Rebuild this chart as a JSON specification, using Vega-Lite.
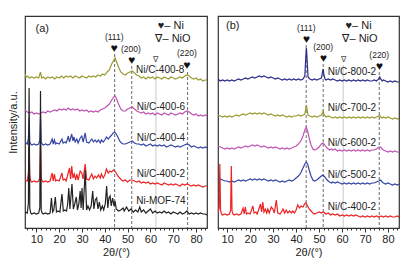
{
"$schema":"https://vega.github.io/schema/vega-lite/v6.json",
"padding":{"left":6,"top":15,"right":4,"bottom":0},
"spacing":8,
"config":{"font":"Liberation Sans","view":{"stroke":"#333","strokeWidth":1.2},
"axis":{"domain":false,"grid":false,"labelFont":"Liberation Sans","titleFont":"Liberation Sans","labelFontSize":11,"titleFontSize":11,"titleFontWeight":"normal","labelColor":"#222","titleColor":"#222","tickColor":"#333"},
"text":{"font":"Liberation Sans","color":"#222","baseline":"middle"}},
"datasets":{
"a":[
{"s":"a8","x":5,"y":154},{"s":"a8","x":5.5,"y":151},{"s":"a8","x":6,"y":152},{"s":"a8","x":7,"y":150},{"s":"a8","x":8,"y":151},{"s":"a8","x":9,"y":150},{"s":"a8","x":10,"y":151},{"s":"a8","x":11,"y":150},{"s":"a8","x":11.8,"y":156},{"s":"a8","x":12.3,"y":150},{"s":"a8","x":13,"y":151},{"s":"a8","x":14,"y":149},{"s":"a8","x":15,"y":151},{"s":"a8","x":16,"y":150},{"s":"a8","x":17,"y":151},{"s":"a8","x":18,"y":149},{"s":"a8","x":19,"y":151},{"s":"a8","x":20,"y":150},{"s":"a8","x":21,"y":152},{"s":"a8","x":22,"y":150},{"s":"a8","x":23,"y":152},{"s":"a8","x":24,"y":151},{"s":"a8","x":25,"y":152},{"s":"a8","x":26,"y":150},{"s":"a8","x":27,"y":152},{"s":"a8","x":28,"y":151},{"s":"a8","x":29,"y":150},{"s":"a8","x":30,"y":152},{"s":"a8","x":31,"y":151},{"s":"a8","x":32,"y":150},{"s":"a8","x":33,"y":152},{"s":"a8","x":34,"y":151},{"s":"a8","x":35,"y":152},{"s":"a8","x":36,"y":151},{"s":"a8","x":37,"y":153},{"s":"a8","x":38,"y":152},{"s":"a8","x":39,"y":154},{"s":"a8","x":40,"y":153},{"s":"a8","x":41,"y":156},{"s":"a8","x":42,"y":158},{"s":"a8","x":43,"y":164},{"s":"a8","x":44,"y":168},{"s":"a8","x":44.5,"y":170},{"s":"a8","x":45,"y":167},{"s":"a8","x":46,"y":161},{"s":"a8","x":47,"y":156},{"s":"a8","x":48,"y":154},{"s":"a8","x":49,"y":153},{"s":"a8","x":50,"y":155},{"s":"a8","x":51,"y":156},{"s":"a8","x":52,"y":157},{"s":"a8","x":53,"y":155},{"s":"a8","x":54,"y":153},{"s":"a8","x":55,"y":152},{"s":"a8","x":56,"y":150},{"s":"a8","x":57,"y":151},{"s":"a8","x":58,"y":149},{"s":"a8","x":59,"y":151},{"s":"a8","x":60,"y":150},{"s":"a8","x":61,"y":151},{"s":"a8","x":62,"y":149},{"s":"a8","x":63,"y":151},{"s":"a8","x":64,"y":150},{"s":"a8","x":65,"y":149},{"s":"a8","x":66,"y":151},{"s":"a8","x":67,"y":150},{"s":"a8","x":68,"y":149},{"s":"a8","x":69,"y":151},{"s":"a8","x":70,"y":150},{"s":"a8","x":71,"y":149},{"s":"a8","x":72,"y":150},{"s":"a8","x":73,"y":151},{"s":"a8","x":74,"y":150},{"s":"a8","x":75,"y":152},{"s":"a8","x":76,"y":153},{"s":"a8","x":77,"y":152},{"s":"a8","x":78,"y":150},{"s":"a8","x":79,"y":149},{"s":"a8","x":80,"y":150},{"s":"a8","x":81,"y":148},{"s":"a8","x":82,"y":149},{"s":"a8","x":83,"y":147},{"s":"a8","x":84,"y":148},{"s":"a8","x":84.8,"y":148},
{"s":"a6","x":5,"y":118},{"s":"a6","x":6,"y":116},{"s":"a6","x":7,"y":115},{"s":"a6","x":8,"y":116},{"s":"a6","x":9,"y":114},{"s":"a6","x":10,"y":115},{"s":"a6","x":11,"y":114},{"s":"a6","x":12,"y":115},{"s":"a6","x":13,"y":116},{"s":"a6","x":14,"y":115},{"s":"a6","x":15,"y":117},{"s":"a6","x":16,"y":116},{"s":"a6","x":17,"y":117},{"s":"a6","x":18,"y":118},{"s":"a6","x":19,"y":117},{"s":"a6","x":20,"y":119},{"s":"a6","x":21,"y":118},{"s":"a6","x":22,"y":119},{"s":"a6","x":23,"y":118},{"s":"a6","x":24,"y":120},{"s":"a6","x":25,"y":118},{"s":"a6","x":26,"y":119},{"s":"a6","x":27,"y":118},{"s":"a6","x":28,"y":119},{"s":"a6","x":29,"y":117},{"s":"a6","x":30,"y":118},{"s":"a6","x":31,"y":117},{"s":"a6","x":32,"y":118},{"s":"a6","x":33,"y":116},{"s":"a6","x":34,"y":117},{"s":"a6","x":35,"y":116},{"s":"a6","x":36,"y":117},{"s":"a6","x":37,"y":116},{"s":"a6","x":38,"y":118},{"s":"a6","x":39,"y":119},{"s":"a6","x":40,"y":120},{"s":"a6","x":41,"y":122},{"s":"a6","x":42,"y":124},{"s":"a6","x":43,"y":128},{"s":"a6","x":44,"y":131},{"s":"a6","x":44.5,"y":132},{"s":"a6","x":45,"y":130},{"s":"a6","x":46,"y":124},{"s":"a6","x":47,"y":119},{"s":"a6","x":48,"y":117},{"s":"a6","x":49,"y":117},{"s":"a6","x":50,"y":119},{"s":"a6","x":51,"y":120},{"s":"a6","x":52,"y":121},{"s":"a6","x":53,"y":119},{"s":"a6","x":54,"y":117},{"s":"a6","x":55,"y":116},{"s":"a6","x":56,"y":115},{"s":"a6","x":57,"y":116},{"s":"a6","x":58,"y":114},{"s":"a6","x":59,"y":115},{"s":"a6","x":60,"y":114},{"s":"a6","x":61,"y":115},{"s":"a6","x":62,"y":113},{"s":"a6","x":63,"y":115},{"s":"a6","x":64,"y":114},{"s":"a6","x":65,"y":113},{"s":"a6","x":66,"y":115},{"s":"a6","x":67,"y":114},{"s":"a6","x":68,"y":113},{"s":"a6","x":69,"y":115},{"s":"a6","x":70,"y":114},{"s":"a6","x":71,"y":113},{"s":"a6","x":72,"y":114},{"s":"a6","x":73,"y":115},{"s":"a6","x":74,"y":114},{"s":"a6","x":75,"y":116},{"s":"a6","x":76,"y":117},{"s":"a6","x":77,"y":116},{"s":"a6","x":78,"y":114},{"s":"a6","x":79,"y":113},{"s":"a6","x":80,"y":114},{"s":"a6","x":81,"y":112},{"s":"a6","x":82,"y":113},{"s":"a6","x":83,"y":112},{"s":"a6","x":84,"y":113},{"s":"a6","x":84.8,"y":112},
{"s":"a4","x":5,"y":86},{"s":"a4","x":6,"y":84},{"s":"a4","x":6.5,"y":90},{"s":"a4","x":6.8,"y":110},{"s":"a4","x":7.1,"y":86},{"s":"a4","x":7.5,"y":84},{"s":"a4","x":8,"y":83},{"s":"a4","x":9,"y":84},{"s":"a4","x":10,"y":83},{"s":"a4","x":11,"y":84},{"s":"a4","x":11.5,"y":88},{"s":"a4","x":11.8,"y":112},{"s":"a4","x":12.1,"y":86},{"s":"a4","x":12.5,"y":84},{"s":"a4","x":13,"y":83},{"s":"a4","x":14,"y":84},{"s":"a4","x":15,"y":83},{"s":"a4","x":16,"y":84},{"s":"a4","x":16.9,"y":89},{"s":"a4","x":17.4,"y":84},{"s":"a4","x":17.9,"y":88},{"s":"a4","x":18.4,"y":84},{"s":"a4","x":19,"y":85},{"s":"a4","x":20,"y":84},{"s":"a4","x":21.2,"y":89},{"s":"a4","x":21.7,"y":85},{"s":"a4","x":22.5,"y":86},{"s":"a4","x":23,"y":85},{"s":"a4","x":23.5,"y":88},{"s":"a4","x":24,"y":92},{"s":"a4","x":24.5,"y":86},{"s":"a4","x":25.5,"y":94},{"s":"a4","x":26,"y":87},{"s":"a4","x":26.4,"y":91},{"s":"a4","x":27,"y":86},{"s":"a4","x":27.7,"y":89},{"s":"a4","x":28.3,"y":85},{"s":"a4","x":29.2,"y":90},{"s":"a4","x":29.9,"y":92},{"s":"a4","x":30.5,"y":86},{"s":"a4","x":31.4,"y":95},{"s":"a4","x":32,"y":86},{"s":"a4","x":33,"y":85},{"s":"a4","x":33.6,"y":87},{"s":"a4","x":34.3,"y":89},{"s":"a4","x":35,"y":86},{"s":"a4","x":35.7,"y":88},{"s":"a4","x":36.4,"y":86},{"s":"a4","x":37.2,"y":88},{"s":"a4","x":38,"y":85},{"s":"a4","x":38.5,"y":88},{"s":"a4","x":39.3,"y":86},{"s":"a4","x":40,"y":88},{"s":"a4","x":40.7,"y":91},{"s":"a4","x":41.5,"y":89},{"s":"a4","x":42.2,"y":91},{"s":"a4","x":43,"y":93},{"s":"a4","x":43.7,"y":95},{"s":"a4","x":44.3,"y":96},{"s":"a4","x":45,"y":94},{"s":"a4","x":45.7,"y":91},{"s":"a4","x":46.5,"y":87},{"s":"a4","x":47.3,"y":85},{"s":"a4","x":48,"y":84},{"s":"a4","x":49,"y":84},{"s":"a4","x":50,"y":85},{"s":"a4","x":51,"y":86},{"s":"a4","x":52,"y":87},{"s":"a4","x":53,"y":85},{"s":"a4","x":54,"y":84},{"s":"a4","x":55,"y":84},{"s":"a4","x":56,"y":83},{"s":"a4","x":57,"y":84},{"s":"a4","x":58,"y":82},{"s":"a4","x":59,"y":83},{"s":"a4","x":60,"y":84},{"s":"a4","x":61,"y":82},{"s":"a4","x":62,"y":83},{"s":"a4","x":63,"y":82},{"s":"a4","x":64,"y":83},{"s":"a4","x":65,"y":82},{"s":"a4","x":66,"y":83},{"s":"a4","x":67,"y":81},{"s":"a4","x":68,"y":82},{"s":"a4","x":69,"y":83},{"s":"a4","x":70,"y":82},{"s":"a4","x":71,"y":81},{"s":"a4","x":72,"y":82},{"s":"a4","x":73,"y":81},{"s":"a4","x":74,"y":82},{"s":"a4","x":75,"y":83},{"s":"a4","x":76,"y":84},{"s":"a4","x":77,"y":83},{"s":"a4","x":78,"y":81},{"s":"a4","x":79,"y":82},{"s":"a4","x":80,"y":81},{"s":"a4","x":81,"y":80},{"s":"a4","x":82,"y":81},{"s":"a4","x":83,"y":80},{"s":"a4","x":84,"y":81},{"s":"a4","x":84.8,"y":80},
{"s":"a2","x":5,"y":48},{"s":"a2","x":6,"y":47},{"s":"a2","x":6.5,"y":55},{"s":"a2","x":6.8,"y":80},{"s":"a2","x":7.1,"y":52},{"s":"a2","x":7.5,"y":47},{"s":"a2","x":8,"y":46},{"s":"a2","x":9,"y":47},{"s":"a2","x":10,"y":46},{"s":"a2","x":11,"y":47},{"s":"a2","x":11.5,"y":50},{"s":"a2","x":11.8,"y":82},{"s":"a2","x":12.1,"y":50},{"s":"a2","x":12.5,"y":47},{"s":"a2","x":13,"y":46},{"s":"a2","x":14,"y":47},{"s":"a2","x":15,"y":46},{"s":"a2","x":16,"y":47},{"s":"a2","x":16.9,"y":55},{"s":"a2","x":17.4,"y":47},{"s":"a2","x":17.9,"y":54},{"s":"a2","x":18.4,"y":47},{"s":"a2","x":19,"y":48},{"s":"a2","x":20,"y":47},{"s":"a2","x":21.2,"y":55},{"s":"a2","x":21.7,"y":48},{"s":"a2","x":22.5,"y":49},{"s":"a2","x":23,"y":47},{"s":"a2","x":23.5,"y":51},{"s":"a2","x":24.5,"y":60},{"s":"a2","x":25,"y":49},{"s":"a2","x":25.5,"y":62},{"s":"a2","x":26,"y":50},{"s":"a2","x":26.6,"y":54},{"s":"a2","x":27.2,"y":48},{"s":"a2","x":27.7,"y":54},{"s":"a2","x":28.3,"y":48},{"s":"a2","x":29.2,"y":57},{"s":"a2","x":29.9,"y":55},{"s":"a2","x":30.5,"y":49},{"s":"a2","x":31.4,"y":64},{"s":"a2","x":32,"y":49},{"s":"a2","x":33,"y":48},{"s":"a2","x":33.6,"y":51},{"s":"a2","x":34.3,"y":54},{"s":"a2","x":35,"y":49},{"s":"a2","x":35.7,"y":52},{"s":"a2","x":36.4,"y":50},{"s":"a2","x":37.2,"y":53},{"s":"a2","x":38,"y":50},{"s":"a2","x":38.5,"y":54},{"s":"a2","x":39.3,"y":50},{"s":"a2","x":40,"y":53},{"s":"a2","x":40.7,"y":59},{"s":"a2","x":41.5,"y":55},{"s":"a2","x":42.2,"y":57},{"s":"a2","x":43,"y":56},{"s":"a2","x":43.7,"y":58},{"s":"a2","x":44.3,"y":57},{"s":"a2","x":45,"y":55},{"s":"a2","x":45.7,"y":52},{"s":"a2","x":46.5,"y":50},{"s":"a2","x":47.3,"y":48},{"s":"a2","x":48,"y":47},{"s":"a2","x":49,"y":48},{"s":"a2","x":50,"y":46},{"s":"a2","x":51,"y":48},{"s":"a2","x":52,"y":48},{"s":"a2","x":53,"y":47},{"s":"a2","x":54,"y":46},{"s":"a2","x":55,"y":47},{"s":"a2","x":56,"y":45},{"s":"a2","x":57,"y":46},{"s":"a2","x":58,"y":45},{"s":"a2","x":59,"y":46},{"s":"a2","x":60,"y":44},{"s":"a2","x":61,"y":45},{"s":"a2","x":62,"y":44},{"s":"a2","x":63,"y":45},{"s":"a2","x":64,"y":44},{"s":"a2","x":65,"y":43},{"s":"a2","x":66,"y":45},{"s":"a2","x":67,"y":44},{"s":"a2","x":68,"y":43},{"s":"a2","x":69,"y":44},{"s":"a2","x":70,"y":43},{"s":"a2","x":71,"y":44},{"s":"a2","x":72,"y":43},{"s":"a2","x":73,"y":42},{"s":"a2","x":74,"y":44},{"s":"a2","x":75,"y":43},{"s":"a2","x":76,"y":44},{"s":"a2","x":77,"y":43},{"s":"a2","x":78,"y":42},{"s":"a2","x":79,"y":43},{"s":"a2","x":80,"y":42},{"s":"a2","x":81,"y":43},{"s":"a2","x":82,"y":42},{"s":"a2","x":83,"y":41},{"s":"a2","x":84,"y":42},{"s":"a2","x":84.8,"y":42},
{"s":"a0","x":5,"y":16},{"s":"a0","x":6,"y":15},{"s":"a0","x":6.5,"y":25},{"s":"a0","x":6.8,"y":140},{"s":"a0","x":7.1,"y":20},{"s":"a0","x":7.5,"y":15},{"s":"a0","x":8,"y":14},{"s":"a0","x":9,"y":15},{"s":"a0","x":10,"y":14},{"s":"a0","x":11,"y":15},{"s":"a0","x":11.5,"y":20},{"s":"a0","x":11.8,"y":137},{"s":"a0","x":12.1,"y":18},{"s":"a0","x":12.5,"y":15},{"s":"a0","x":13,"y":14},{"s":"a0","x":14,"y":15},{"s":"a0","x":15,"y":14},{"s":"a0","x":16,"y":15},{"s":"a0","x":16.6,"y":30},{"s":"a0","x":17.1,"y":16},{"s":"a0","x":17.6,"y":18},{"s":"a0","x":18.3,"y":31},{"s":"a0","x":18.8,"y":16},{"s":"a0","x":19.5,"y":17},{"s":"a0","x":20.3,"y":16},{"s":"a0","x":21.2,"y":34},{"s":"a0","x":21.8,"y":17},{"s":"a0","x":22.5,"y":18},{"s":"a0","x":23.2,"y":17},{"s":"a0","x":23.7,"y":24},{"s":"a0","x":24.2,"y":40},{"s":"a0","x":24.7,"y":19},{"s":"a0","x":25.6,"y":44},{"s":"a0","x":26.2,"y":19},{"s":"a0","x":26.8,"y":24},{"s":"a0","x":27.5,"y":31},{"s":"a0","x":28,"y":18},{"s":"a0","x":28.6,"y":24},{"s":"a0","x":29.2,"y":37},{"s":"a0","x":29.6,"y":20},{"s":"a0","x":30,"y":40},{"s":"a0","x":30.5,"y":18},{"s":"a0","x":31.4,"y":58},{"s":"a0","x":32,"y":18},{"s":"a0","x":32.6,"y":22},{"s":"a0","x":33.3,"y":18},{"s":"a0","x":34,"y":22},{"s":"a0","x":34.7,"y":37},{"s":"a0","x":35.2,"y":19},{"s":"a0","x":35.8,"y":28},{"s":"a0","x":36.4,"y":30},{"s":"a0","x":37,"y":19},{"s":"a0","x":37.6,"y":26},{"s":"a0","x":38.2,"y":18},{"s":"a0","x":38.9,"y":22},{"s":"a0","x":39.5,"y":18},{"s":"a0","x":40.2,"y":24},{"s":"a0","x":40.8,"y":42},{"s":"a0","x":41.3,"y":20},{"s":"a0","x":41.8,"y":30},{"s":"a0","x":42.3,"y":32},{"s":"a0","x":42.8,"y":22},{"s":"a0","x":43.4,"y":30},{"s":"a0","x":44,"y":22},{"s":"a0","x":44.5,"y":27},{"s":"a0","x":45,"y":19},{"s":"a0","x":46,"y":17},{"s":"a0","x":47,"y":18},{"s":"a0","x":48,"y":20},{"s":"a0","x":48.5,"y":17},{"s":"a0","x":49.5,"y":21},{"s":"a0","x":50.5,"y":17},{"s":"a0","x":51.5,"y":19},{"s":"a0","x":52.5,"y":16},{"s":"a0","x":53.5,"y":18},{"s":"a0","x":54.5,"y":16},{"s":"a0","x":55.3,"y":21},{"s":"a0","x":56,"y":16},{"s":"a0","x":57,"y":18},{"s":"a0","x":58,"y":15},{"s":"a0","x":59,"y":17},{"s":"a0","x":60,"y":19},{"s":"a0","x":61,"y":15},{"s":"a0","x":62,"y":17},{"s":"a0","x":63,"y":15},{"s":"a0","x":64,"y":16},{"s":"a0","x":65,"y":15},{"s":"a0","x":66,"y":17},{"s":"a0","x":67,"y":15},{"s":"a0","x":68,"y":16},{"s":"a0","x":69,"y":14},{"s":"a0","x":70,"y":16},{"s":"a0","x":71,"y":15},{"s":"a0","x":72,"y":14},{"s":"a0","x":73,"y":16},{"s":"a0","x":74,"y":14},{"s":"a0","x":75,"y":15},{"s":"a0","x":76,"y":17},{"s":"a0","x":77,"y":14},{"s":"a0","x":78,"y":15},{"s":"a0","x":79,"y":14},{"s":"a0","x":80,"y":15},{"s":"a0","x":81,"y":14},{"s":"a0","x":82,"y":15},{"s":"a0","x":83,"y":14},{"s":"a0","x":84,"y":14},{"s":"a0","x":84.8,"y":13}
],
"b":[
{"s":"b8","x":6,"y":149},{"s":"b8","x":7,"y":147},{"s":"b8","x":8,"y":148},{"s":"b8","x":9,"y":147},{"s":"b8","x":10,"y":148},{"s":"b8","x":11,"y":147},{"s":"b8","x":12,"y":148},{"s":"b8","x":13,"y":147},{"s":"b8","x":14,"y":148},{"s":"b8","x":15,"y":149},{"s":"b8","x":16,"y":148},{"s":"b8","x":17,"y":149},{"s":"b8","x":18,"y":150},{"s":"b8","x":19,"y":149},{"s":"b8","x":20,"y":150},{"s":"b8","x":21,"y":151},{"s":"b8","x":22,"y":150},{"s":"b8","x":23,"y":151},{"s":"b8","x":24,"y":152},{"s":"b8","x":25,"y":151},{"s":"b8","x":26,"y":152},{"s":"b8","x":27,"y":151},{"s":"b8","x":28,"y":150},{"s":"b8","x":29,"y":151},{"s":"b8","x":30,"y":150},{"s":"b8","x":31,"y":149},{"s":"b8","x":32,"y":150},{"s":"b8","x":33,"y":149},{"s":"b8","x":34,"y":148},{"s":"b8","x":35,"y":149},{"s":"b8","x":36,"y":148},{"s":"b8","x":37,"y":149},{"s":"b8","x":38,"y":148},{"s":"b8","x":39,"y":149},{"s":"b8","x":40,"y":148},{"s":"b8","x":41,"y":149},{"s":"b8","x":42,"y":148},{"s":"b8","x":43,"y":149},{"s":"b8","x":43.8,"y":152},{"s":"b8","x":44.2,"y":170},{"s":"b8","x":44.5,"y":180},{"s":"b8","x":44.8,"y":168},{"s":"b8","x":45.2,"y":151},{"s":"b8","x":46,"y":149},{"s":"b8","x":47,"y":148},{"s":"b8","x":48,"y":149},{"s":"b8","x":49,"y":148},{"s":"b8","x":50,"y":149},{"s":"b8","x":51,"y":150},{"s":"b8","x":51.5,"y":156},{"s":"b8","x":51.8,"y":159},{"s":"b8","x":52.1,"y":153},{"s":"b8","x":52.6,"y":149},{"s":"b8","x":53,"y":148},{"s":"b8","x":54,"y":149},{"s":"b8","x":55,"y":148},{"s":"b8","x":56,"y":149},{"s":"b8","x":57,"y":148},{"s":"b8","x":58,"y":147},{"s":"b8","x":59,"y":148},{"s":"b8","x":60,"y":147},{"s":"b8","x":61,"y":148},{"s":"b8","x":62,"y":147},{"s":"b8","x":63,"y":148},{"s":"b8","x":64,"y":147},{"s":"b8","x":65,"y":148},{"s":"b8","x":66,"y":147},{"s":"b8","x":67,"y":148},{"s":"b8","x":68,"y":147},{"s":"b8","x":69,"y":148},{"s":"b8","x":70,"y":147},{"s":"b8","x":71,"y":148},{"s":"b8","x":72,"y":147},{"s":"b8","x":73,"y":147},{"s":"b8","x":74,"y":148},{"s":"b8","x":75,"y":147},{"s":"b8","x":76,"y":149},{"s":"b8","x":76.4,"y":151},{"s":"b8","x":76.8,"y":149},{"s":"b8","x":77.5,"y":147},{"s":"b8","x":78,"y":148},{"s":"b8","x":79,"y":147},{"s":"b8","x":80,"y":146},{"s":"b8","x":81,"y":147},{"s":"b8","x":82,"y":146},{"s":"b8","x":83,"y":147},{"s":"b8","x":84,"y":146},{"s":"b8","x":84.8,"y":146},
{"s":"b7","x":6,"y":113},{"s":"b7","x":7,"y":112},{"s":"b7","x":8,"y":111},{"s":"b7","x":9,"y":112},{"s":"b7","x":10,"y":111},{"s":"b7","x":11,"y":112},{"s":"b7","x":12,"y":111},{"s":"b7","x":13,"y":112},{"s":"b7","x":14,"y":113},{"s":"b7","x":15,"y":112},{"s":"b7","x":16,"y":113},{"s":"b7","x":17,"y":114},{"s":"b7","x":18,"y":113},{"s":"b7","x":19,"y":114},{"s":"b7","x":20,"y":115},{"s":"b7","x":21,"y":114},{"s":"b7","x":22,"y":115},{"s":"b7","x":23,"y":114},{"s":"b7","x":24,"y":115},{"s":"b7","x":25,"y":114},{"s":"b7","x":26,"y":115},{"s":"b7","x":27,"y":114},{"s":"b7","x":28,"y":113},{"s":"b7","x":29,"y":114},{"s":"b7","x":30,"y":113},{"s":"b7","x":31,"y":112},{"s":"b7","x":32,"y":113},{"s":"b7","x":33,"y":112},{"s":"b7","x":34,"y":113},{"s":"b7","x":35,"y":112},{"s":"b7","x":36,"y":111},{"s":"b7","x":37,"y":112},{"s":"b7","x":38,"y":111},{"s":"b7","x":39,"y":112},{"s":"b7","x":40,"y":112},{"s":"b7","x":41,"y":113},{"s":"b7","x":42,"y":112},{"s":"b7","x":43,"y":113},{"s":"b7","x":43.8,"y":114},{"s":"b7","x":44.2,"y":119},{"s":"b7","x":44.5,"y":123},{"s":"b7","x":44.8,"y":118},{"s":"b7","x":45.2,"y":113},{"s":"b7","x":46,"y":112},{"s":"b7","x":47,"y":111},{"s":"b7","x":48,"y":112},{"s":"b7","x":49,"y":111},{"s":"b7","x":50,"y":112},{"s":"b7","x":51,"y":113},{"s":"b7","x":51.5,"y":115},{"s":"b7","x":51.8,"y":117},{"s":"b7","x":52.1,"y":114},{"s":"b7","x":52.6,"y":112},{"s":"b7","x":53,"y":111},{"s":"b7","x":54,"y":112},{"s":"b7","x":55,"y":111},{"s":"b7","x":56,"y":110},{"s":"b7","x":57,"y":111},{"s":"b7","x":58,"y":110},{"s":"b7","x":59,"y":111},{"s":"b7","x":60,"y":110},{"s":"b7","x":61,"y":111},{"s":"b7","x":62,"y":110},{"s":"b7","x":63,"y":111},{"s":"b7","x":64,"y":110},{"s":"b7","x":65,"y":111},{"s":"b7","x":66,"y":110},{"s":"b7","x":67,"y":111},{"s":"b7","x":68,"y":110},{"s":"b7","x":69,"y":111},{"s":"b7","x":70,"y":110},{"s":"b7","x":71,"y":111},{"s":"b7","x":72,"y":110},{"s":"b7","x":73,"y":111},{"s":"b7","x":74,"y":110},{"s":"b7","x":75,"y":111},{"s":"b7","x":76,"y":112},{"s":"b7","x":76.4,"y":113},{"s":"b7","x":76.8,"y":111},{"s":"b7","x":77.5,"y":110},{"s":"b7","x":78,"y":111},{"s":"b7","x":79,"y":110},{"s":"b7","x":80,"y":111},{"s":"b7","x":81,"y":110},{"s":"b7","x":82,"y":109},{"s":"b7","x":83,"y":110},{"s":"b7","x":84,"y":109},{"s":"b7","x":84.8,"y":110},
{"s":"b6","x":6,"y":82},{"s":"b6","x":7,"y":81},{"s":"b6","x":8,"y":80},{"s":"b6","x":9,"y":79},{"s":"b6","x":10,"y":80},{"s":"b6","x":11,"y":79},{"s":"b6","x":12,"y":80},{"s":"b6","x":13,"y":79},{"s":"b6","x":14,"y":80},{"s":"b6","x":15,"y":81},{"s":"b6","x":16,"y":80},{"s":"b6","x":17,"y":81},{"s":"b6","x":18,"y":82},{"s":"b6","x":19,"y":81},{"s":"b6","x":20,"y":82},{"s":"b6","x":21,"y":83},{"s":"b6","x":22,"y":82},{"s":"b6","x":23,"y":83},{"s":"b6","x":24,"y":82},{"s":"b6","x":25,"y":81},{"s":"b6","x":26,"y":82},{"s":"b6","x":27,"y":81},{"s":"b6","x":28,"y":80},{"s":"b6","x":29,"y":81},{"s":"b6","x":30,"y":80},{"s":"b6","x":31,"y":81},{"s":"b6","x":32,"y":80},{"s":"b6","x":33,"y":79},{"s":"b6","x":34,"y":80},{"s":"b6","x":35,"y":79},{"s":"b6","x":36,"y":80},{"s":"b6","x":37,"y":79},{"s":"b6","x":38,"y":80},{"s":"b6","x":39,"y":81},{"s":"b6","x":40,"y":82},{"s":"b6","x":41,"y":84},{"s":"b6","x":42,"y":87},{"s":"b6","x":43,"y":92},{"s":"b6","x":43.8,"y":98},{"s":"b6","x":44.4,"y":101},{"s":"b6","x":45,"y":97},{"s":"b6","x":45.7,"y":90},{"s":"b6","x":46.5,"y":83},{"s":"b6","x":47.3,"y":79},{"s":"b6","x":48,"y":78},{"s":"b6","x":49,"y":79},{"s":"b6","x":50,"y":81},{"s":"b6","x":51,"y":84},{"s":"b6","x":51.8,"y":85},{"s":"b6","x":52.5,"y":83},{"s":"b6","x":53.5,"y":80},{"s":"b6","x":54.6,"y":78},{"s":"b6","x":55.5,"y":79},{"s":"b6","x":56,"y":78},{"s":"b6","x":57,"y":79},{"s":"b6","x":58,"y":77},{"s":"b6","x":59,"y":78},{"s":"b6","x":60,"y":77},{"s":"b6","x":61,"y":78},{"s":"b6","x":62,"y":77},{"s":"b6","x":63,"y":78},{"s":"b6","x":64,"y":77},{"s":"b6","x":65,"y":78},{"s":"b6","x":66,"y":77},{"s":"b6","x":67,"y":78},{"s":"b6","x":68,"y":77},{"s":"b6","x":69,"y":78},{"s":"b6","x":70,"y":77},{"s":"b6","x":71,"y":78},{"s":"b6","x":72,"y":77},{"s":"b6","x":73,"y":78},{"s":"b6","x":74,"y":78},{"s":"b6","x":75,"y":79},{"s":"b6","x":76,"y":81},{"s":"b6","x":76.8,"y":81},{"s":"b6","x":77.5,"y":79},{"s":"b6","x":78,"y":78},{"s":"b6","x":79,"y":77},{"s":"b6","x":80,"y":76},{"s":"b6","x":81,"y":77},{"s":"b6","x":82,"y":76},{"s":"b6","x":83,"y":77},{"s":"b6","x":84,"y":76},{"s":"b6","x":84.8,"y":76},
{"s":"b5","x":6,"y":51},{"s":"b5","x":7,"y":49},{"s":"b5","x":8,"y":48},{"s":"b5","x":9,"y":47},{"s":"b5","x":10,"y":47},{"s":"b5","x":11,"y":46},{"s":"b5","x":12,"y":47},{"s":"b5","x":13,"y":46},{"s":"b5","x":14,"y":47},{"s":"b5","x":15,"y":48},{"s":"b5","x":16,"y":47},{"s":"b5","x":17,"y":48},{"s":"b5","x":18,"y":47},{"s":"b5","x":19,"y":48},{"s":"b5","x":20,"y":49},{"s":"b5","x":21,"y":48},{"s":"b5","x":22,"y":49},{"s":"b5","x":23,"y":48},{"s":"b5","x":24,"y":49},{"s":"b5","x":25,"y":48},{"s":"b5","x":26,"y":49},{"s":"b5","x":27,"y":48},{"s":"b5","x":28,"y":47},{"s":"b5","x":29,"y":48},{"s":"b5","x":30,"y":47},{"s":"b5","x":31,"y":48},{"s":"b5","x":32,"y":47},{"s":"b5","x":33,"y":46},{"s":"b5","x":34,"y":47},{"s":"b5","x":35,"y":46},{"s":"b5","x":36,"y":47},{"s":"b5","x":37,"y":48},{"s":"b5","x":38,"y":47},{"s":"b5","x":39,"y":48},{"s":"b5","x":40,"y":50},{"s":"b5","x":41,"y":52},{"s":"b5","x":42,"y":55},{"s":"b5","x":43,"y":60},{"s":"b5","x":43.8,"y":64},{"s":"b5","x":44.4,"y":66},{"s":"b5","x":45,"y":64},{"s":"b5","x":45.7,"y":58},{"s":"b5","x":46.5,"y":52},{"s":"b5","x":47.3,"y":48},{"s":"b5","x":48,"y":47},{"s":"b5","x":49,"y":48},{"s":"b5","x":50,"y":50},{"s":"b5","x":51,"y":52},{"s":"b5","x":51.7,"y":53},{"s":"b5","x":52.5,"y":51},{"s":"b5","x":53.5,"y":48},{"s":"b5","x":54.5,"y":46},{"s":"b5","x":55.5,"y":45},{"s":"b5","x":56,"y":46},{"s":"b5","x":57,"y":45},{"s":"b5","x":58,"y":46},{"s":"b5","x":59,"y":45},{"s":"b5","x":60,"y":44},{"s":"b5","x":61,"y":45},{"s":"b5","x":62,"y":44},{"s":"b5","x":63,"y":45},{"s":"b5","x":64,"y":44},{"s":"b5","x":65,"y":45},{"s":"b5","x":66,"y":44},{"s":"b5","x":67,"y":45},{"s":"b5","x":68,"y":44},{"s":"b5","x":69,"y":45},{"s":"b5","x":70,"y":44},{"s":"b5","x":71,"y":45},{"s":"b5","x":72,"y":44},{"s":"b5","x":73,"y":45},{"s":"b5","x":74,"y":45},{"s":"b5","x":75,"y":46},{"s":"b5","x":76,"y":47},{"s":"b5","x":76.8,"y":48},{"s":"b5","x":77.5,"y":46},{"s":"b5","x":78,"y":45},{"s":"b5","x":79,"y":44},{"s":"b5","x":80,"y":45},{"s":"b5","x":81,"y":44},{"s":"b5","x":82,"y":43},{"s":"b5","x":83,"y":44},{"s":"b5","x":84,"y":43},{"s":"b5","x":84.8,"y":44},
{"s":"b4","x":6,"y":15},{"s":"b4","x":6.5,"y":20},{"s":"b4","x":6.8,"y":64},{"s":"b4","x":7.1,"y":18},{"s":"b4","x":7.5,"y":14},{"s":"b4","x":8,"y":13},{"s":"b4","x":9,"y":14},{"s":"b4","x":10,"y":13},{"s":"b4","x":11,"y":14},{"s":"b4","x":11.5,"y":18},{"s":"b4","x":11.8,"y":62},{"s":"b4","x":12.1,"y":17},{"s":"b4","x":12.5,"y":14},{"s":"b4","x":13,"y":13},{"s":"b4","x":14,"y":14},{"s":"b4","x":15,"y":13},{"s":"b4","x":16,"y":14},{"s":"b4","x":16.9,"y":20},{"s":"b4","x":17.4,"y":14},{"s":"b4","x":17.9,"y":21},{"s":"b4","x":18.4,"y":14},{"s":"b4","x":19,"y":15},{"s":"b4","x":20,"y":14},{"s":"b4","x":21.2,"y":22},{"s":"b4","x":21.7,"y":15},{"s":"b4","x":22.5,"y":16},{"s":"b4","x":23,"y":14},{"s":"b4","x":23.5,"y":17},{"s":"b4","x":24.5,"y":24},{"s":"b4","x":25,"y":16},{"s":"b4","x":25.5,"y":26},{"s":"b4","x":26,"y":16},{"s":"b4","x":26.6,"y":19},{"s":"b4","x":27.2,"y":15},{"s":"b4","x":27.7,"y":19},{"s":"b4","x":28.3,"y":15},{"s":"b4","x":29.2,"y":21},{"s":"b4","x":29.9,"y":19},{"s":"b4","x":30.5,"y":15},{"s":"b4","x":31.4,"y":28},{"s":"b4","x":32,"y":15},{"s":"b4","x":33,"y":14},{"s":"b4","x":33.6,"y":16},{"s":"b4","x":34.3,"y":19},{"s":"b4","x":35,"y":15},{"s":"b4","x":35.7,"y":18},{"s":"b4","x":36.4,"y":15},{"s":"b4","x":37.2,"y":17},{"s":"b4","x":38,"y":15},{"s":"b4","x":38.5,"y":17},{"s":"b4","x":39.3,"y":15},{"s":"b4","x":40,"y":18},{"s":"b4","x":40.7,"y":23},{"s":"b4","x":41.5,"y":20},{"s":"b4","x":42.2,"y":22},{"s":"b4","x":43,"y":21},{"s":"b4","x":43.7,"y":24},{"s":"b4","x":44.3,"y":25},{"s":"b4","x":45,"y":22},{"s":"b4","x":45.7,"y":19},{"s":"b4","x":46.5,"y":17},{"s":"b4","x":47.3,"y":15},{"s":"b4","x":48,"y":14},{"s":"b4","x":49,"y":15},{"s":"b4","x":50,"y":16},{"s":"b4","x":51,"y":15},{"s":"b4","x":52,"y":16},{"s":"b4","x":53,"y":14},{"s":"b4","x":54,"y":15},{"s":"b4","x":55,"y":13},{"s":"b4","x":56,"y":14},{"s":"b4","x":57,"y":13},{"s":"b4","x":58,"y":14},{"s":"b4","x":59,"y":12},{"s":"b4","x":60,"y":13},{"s":"b4","x":61,"y":12},{"s":"b4","x":62,"y":13},{"s":"b4","x":63,"y":12},{"s":"b4","x":64,"y":13},{"s":"b4","x":65,"y":12},{"s":"b4","x":66,"y":13},{"s":"b4","x":67,"y":12},{"s":"b4","x":68,"y":11},{"s":"b4","x":69,"y":12},{"s":"b4","x":70,"y":11},{"s":"b4","x":71,"y":12},{"s":"b4","x":72,"y":11},{"s":"b4","x":73,"y":12},{"s":"b4","x":74,"y":11},{"s":"b4","x":75,"y":12},{"s":"b4","x":76,"y":11},{"s":"b4","x":77,"y":12},{"s":"b4","x":78,"y":11},{"s":"b4","x":79,"y":12},{"s":"b4","x":80,"y":11},{"s":"b4","x":81,"y":12},{"s":"b4","x":82,"y":11},{"s":"b4","x":83,"y":11},{"s":"b4","x":84,"y":12},{"s":"b4","x":84.8,"y":11}
]
},
"hconcat":[
{"width":182,"height":212,"resolve":{"axis":{"x":"independent"}},
"layer":[
{"data":{"values":[{"x":62.4,"y":163}]},"mark":{"type":"rule","color":"#bbbbbb","strokeWidth":0.8},
"encoding":{"x":{"field":"x","type":"quantitative","scale":{"domain":[5,84.8],"nice":false,"zero":false},"axis":null},"y":{"field":"y","type":"quantitative","scale":{"domain":[0,212],"nice":false},"axis":{"title":"Intensity/a.u.","labels":false,"ticks":false,"titlePadding":7}},"y2":{"datum":0}}},
{"data":{"values":[{"x":44.3,"y":174},{"x":51.8,"y":162},{"x":76.3,"y":156}]},"mark":{"type":"rule","color":"#444444","strokeWidth":0.8,"strokeDash":[3,2]},
"encoding":{"x":{"field":"x","type":"quantitative","axis":{"orient":"bottom","values":[6,8,12,14,16,18,22,24,26,28,32,34,36,38,42,44,46,48,52,54,56,58,62,64,66,68,72,74,76,78,82,84],"labels":false,"tickSize":2,"title":null}},"y":{"field":"y","type":"quantitative","axis":{"title":"Intensity/a.u.","labels":false,"ticks":false,"titlePadding":7}},"y2":{"datum":0}}},
{"data":{"name":"a"},"mark":{"type":"line","strokeWidth":1.2,"clip":true},
"encoding":{"x":{"field":"x","type":"quantitative","axis":{"orient":"bottom","values":[10,20,30,40,50,60,70,80],"title":"2θ/(°)","tickSize":4,"labelPadding":1,"titlePadding":2}},
"y":{"field":"y","type":"quantitative","axis":{"title":"Intensity/a.u.","labels":false,"ticks":false,"titlePadding":7}},
"color":{"field":"s","type":"nominal","scale":{"domain":["a8","a6","a4","a2","a0","b8","b7","b6","b5","b4"],"range":["#9a9a30","#c052b4","#3545a5","#ee2222","#222222","#2b2b88","#9a9a30","#c052b4","#3545a5","#ee2222"]},"legend":null}}},
{"data":{"values":[{"t":"Ni/C-400-8","x":64.3,"y":158},{"t":"Ni/C-400-6","x":64.6,"y":121},{"t":"Ni/C-400-4","x":64.6,"y":90},{"t":"Ni/C-400-2","x":64.6,"y":54},{"t":"Ni-MOF-74","x":64.6,"y":27}]},"mark":{"type":"text","fontSize":10},
"encoding":{"x":{"field":"x","type":"quantitative","axis":null},"y":{"field":"y","type":"quantitative","axis":{"title":"Intensity/a.u.","labels":false,"ticks":false,"titlePadding":7}},"text":{"field":"t"}}},
{"data":{"values":[{"t":"(111)","x":44.1,"y":191},{"t":"(200)","x":51.4,"y":179},{"t":"(220)","x":76,"y":175}]},"mark":{"type":"text","fontSize":8.5},
"encoding":{"x":{"field":"x","type":"quantitative","axis":null},"y":{"field":"y","type":"quantitative","axis":{"title":"Intensity/a.u.","labels":false,"ticks":false,"titlePadding":7}},"text":{"field":"t"}}},
{"data":{"values":[{"t":"♥","x":44.1,"y":180},{"t":"♥","x":51.7,"y":168},{"t":"♥","x":76,"y":163}]},"mark":{"type":"text","fontSize":12,"color":"#111"},
"encoding":{"x":{"field":"x","type":"quantitative","axis":null},"y":{"field":"y","type":"quantitative","axis":{"title":"Intensity/a.u.","labels":false,"ticks":false,"titlePadding":7}},"text":{"field":"t"}}},
{"data":{"values":[{"t":"∇","x":62.4,"y":168}]},"mark":{"type":"text","fontSize":8,"color":"#444"},
"encoding":{"x":{"field":"x","type":"quantitative","axis":null},"y":{"field":"y","type":"quantitative","axis":{"title":"Intensity/a.u.","labels":false,"ticks":false,"titlePadding":7}},"text":{"field":"t"}}},
{"data":{"values":[{"t":"♥– Ni","x":63.2,"y":202},{"t":"∇– NiO","x":62.2,"y":189},{"t":"(a)","x":9.6,"y":199}]},"mark":{"type":"text","fontSize":11,"align":"left"},
"encoding":{"x":{"field":"x","type":"quantitative","axis":null},"y":{"field":"y","type":"quantitative","axis":{"title":"Intensity/a.u.","labels":false,"ticks":false,"titlePadding":7}},"text":{"field":"t"}}}
]},
{"width":181,"height":212,"resolve":{"axis":{"x":"independent"}},
"layer":[
{"data":{"values":[{"x":60.5,"y":163}]},"mark":{"type":"rule","color":"#bbbbbb","strokeWidth":0.8},
"encoding":{"x":{"field":"x","type":"quantitative","scale":{"domain":[6,84.8],"nice":false,"zero":false},"axis":null},"y":{"field":"y","type":"quantitative","scale":{"domain":[0,212],"nice":false},"axis":null},"y2":{"datum":0}}},
{"data":{"values":[{"x":44.4,"y":183},{"x":51.8,"y":164},{"x":76.2,"y":156}]},"mark":{"type":"rule","color":"#444444","strokeWidth":0.8,"strokeDash":[3,2]},
"encoding":{"x":{"field":"x","type":"quantitative","axis":{"orient":"bottom","values":[6,8,12,14,16,18,22,24,26,28,32,34,36,38,42,44,46,48,52,54,56,58,62,64,66,68,72,74,76,78,82,84],"labels":false,"tickSize":2,"title":null}},"y":{"field":"y","type":"quantitative","axis":null},"y2":{"datum":0}}},
{"data":{"name":"b"},"mark":{"type":"line","strokeWidth":1.2,"clip":true},
"encoding":{"x":{"field":"x","type":"quantitative","axis":{"orient":"bottom","values":[10,20,30,40,50,60,70,80],"title":"2θ/(°)","tickSize":4,"labelPadding":1,"titlePadding":2}},
"y":{"field":"y","type":"quantitative","axis":null},
"color":{"field":"s","type":"nominal","scale":{"domain":["a8","a6","a4","a2","a0","b8","b7","b6","b5","b4"],"range":["#9a9a30","#c052b4","#3545a5","#ee2222","#222222","#2b2b88","#9a9a30","#c052b4","#3545a5","#ee2222"]},"legend":null}}},
{"data":{"values":[{"t":"Ni/C-800-2","x":64.3,"y":156},{"t":"Ni/C-700-2","x":64.3,"y":120},{"t":"Ni/C-600-2","x":64.3,"y":85},{"t":"Ni/C-500-2","x":64.3,"y":53},{"t":"Ni/C-400-2","x":64.3,"y":21}]},"mark":{"type":"text","fontSize":10},
"encoding":{"x":{"field":"x","type":"quantitative","axis":null},"y":{"field":"y","type":"quantitative","axis":null},"text":{"field":"t"}}},
{"data":{"values":[{"t":"(111)","x":44.4,"y":200},{"t":"(200)","x":51.8,"y":181},{"t":"(220)","x":76.2,"y":173}]},"mark":{"type":"text","fontSize":8.5},
"encoding":{"x":{"field":"x","type":"quantitative","axis":null},"y":{"field":"y","type":"quantitative","axis":null},"text":{"field":"t"}}},
{"data":{"values":[{"t":"♥","x":44.4,"y":189},{"t":"♥","x":51.8,"y":170},{"t":"♥","x":76.2,"y":162}]},"mark":{"type":"text","fontSize":12,"color":"#111"},
"encoding":{"x":{"field":"x","type":"quantitative","axis":null},"y":{"field":"y","type":"quantitative","axis":null},"text":{"field":"t"}}},
{"data":{"values":[{"t":"∇","x":60.5,"y":168}]},"mark":{"type":"text","fontSize":8,"color":"#444"},
"encoding":{"x":{"field":"x","type":"quantitative","axis":null},"y":{"field":"y","type":"quantitative","axis":null},"text":{"field":"t"}}},
{"data":{"values":[{"t":"♥– Ni","x":61.5,"y":202},{"t":"∇– NiO","x":60.2,"y":189},{"t":"(b)","x":9.5,"y":202}]},"mark":{"type":"text","fontSize":11,"align":"left"},
"encoding":{"x":{"field":"x","type":"quantitative","axis":null},"y":{"field":"y","type":"quantitative","axis":null},"text":{"field":"t"}}}
]}
]
}
